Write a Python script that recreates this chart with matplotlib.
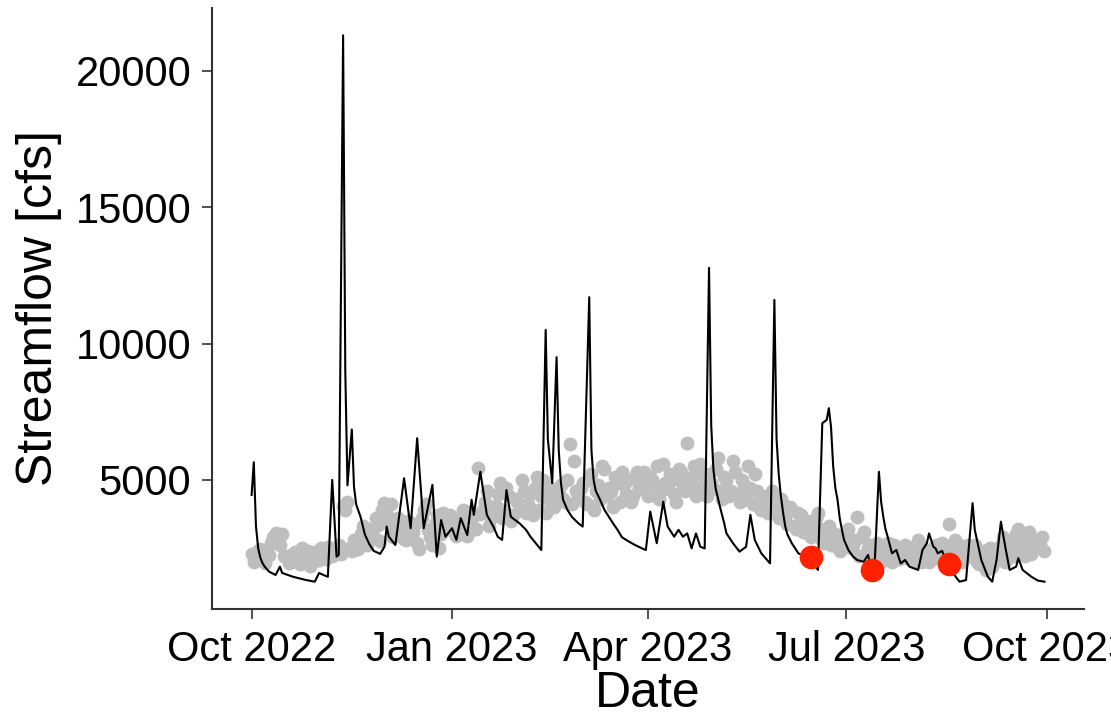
import numpy as np
import pandas as pd
import matplotlib
matplotlib.use('Agg')
import matplotlib.pyplot as plt
import matplotlib.dates as mdates

plt.rcParams['font.family'] = ['Liberation Sans', 'DejaVu Sans']

start = pd.Timestamp('2022-10-01')

# observed daily streamflow, read at turning points (days after 1 Oct 2022, cfs)
flow_day = [0, 1, 2, 3, 4, 5, 6, 8, 11, 13, 14, 19, 25, 29, 31, 33, 35, 37, 39,
            40, 42, 43, 44, 46, 47, 48, 50, 52, 54, 56, 59, 61, 62, 63, 66, 70,
            73, 76, 79, 83, 85, 87, 89, 92, 94, 96, 99, 101, 102, 105, 108, 111,
            113, 115, 117, 119, 123, 126, 128, 133, 135, 136, 138, 140, 141, 142,
            143, 145, 147, 150, 152, 155, 156, 157, 158, 160, 162, 164, 166, 168,
            170, 173, 176, 179, 181, 183, 186, 189, 191, 194, 196, 198, 200, 202,
            204, 206, 208, 210, 211, 212, 213, 215, 217, 218, 221, 224, 227, 229,
            231, 234, 238, 240, 241, 242, 243, 244, 245, 246, 248, 251, 254, 257,
            260, 262, 264, 265, 266, 267, 268, 269, 270, 271, 272, 274, 276, 278,
            281, 283, 284, 286, 288, 289, 290, 291, 292, 294, 296, 298, 300, 302,
            304, 306, 308, 310, 311, 313, 314, 315, 317, 319, 322, 325, 328, 331,
            332, 335, 338, 340, 342, 344, 346, 348, 351, 352, 354, 358, 361, 364]
flow_cfs = [4450, 5650, 3300, 2500, 2150, 1950, 1820, 1640, 1515, 1820, 1590,
            1450, 1330, 1270, 1590, 1515, 1450, 5000, 2190, 2250, 21300, 9000,
            4800, 6850, 4750, 4100, 3650, 3000, 2650, 2400, 2290, 2550, 3290,
            2920, 2615, 5060, 3230, 6530, 3230, 4820, 2190, 3530, 2920, 3230,
            2800, 3600, 2980, 4270, 3720, 5300, 3720, 3290, 2920, 2800, 4630,
            3650, 3410, 3170, 2920, 2430, 10500, 6500, 4880, 9500, 6100, 4900,
            4270, 3900, 3650, 3410, 3290, 11700, 6100, 5000, 4600, 4270, 3900,
            3650, 3400, 3170, 2900, 2750, 2615, 2500, 2430, 3840, 2680, 4200,
            3290, 2920, 3170, 2920, 3040, 2490, 3040, 2550, 2490, 12775, 7000,
            5400, 4700, 4020, 3400, 3040, 2680, 2370, 2550, 3720, 2800, 2310,
            1940, 11600, 6500, 5200, 4400, 3800, 3290, 3000, 2680, 2310, 2200,
            2050, 1700, 7080, 7200, 7630, 6950, 5490, 4700, 4270, 3600, 3170,
            2800, 2430, 2200, 2065, 2000, 2250, 1900, 1850, 5300, 4200, 3650,
            3200, 2920, 2310, 2430, 1940, 2065, 1820, 1760, 1700, 2430, 2680,
            3040, 2550, 2490, 2310, 2400, 2000, 1580, 1270, 1330, 4150, 3170,
            2065, 1450, 1270, 2065, 3470, 2550, 1700, 1820, 2130, 1700, 1450,
            1310, 1270]

# grey reference points on even days after 1 Oct 2022 (cfs)
ref_even = [2300, 2150, 2450, 1950, 2250, 2900, 2800, 3000, 2200, 2000, 2350, 1900, 2150, 2400, 2000,
            2300, 2500, 2100, 2450, 2250, 2600, 4050, 4200, 2400, 2650, 3000, 2750, 3200, 2900, 3350,
            3900, 3700, 4100, 3000, 3300, 2850, 3500, 3100, 2700, 3600, 4100, 2900, 3400, 2500, 3800,
            3300, 3600, 2950, 3500, 3850, 3100, 3700, 5450, 3900, 4600, 3600, 4050, 4900, 3900, 4400,
            3700, 4200, 5000, 3800, 4500, 4700, 3900, 5000, 4300, 4100, 4600, 4800, 4200, 6300, 5700,
            4400, 4900, 4100, 5200, 4600, 4300, 5400, 4700, 4000, 4900, 5300, 4500, 4200, 5100, 4700,
            5300, 4400, 5000, 5500, 4600, 4900, 5200, 4500, 5400, 4800, 6350, 5100, 4400, 5600, 4900,
            5200, 4700, 5800, 4300, 5000, 4600, 5300, 4200, 4800, 5500, 4100, 4600, 3900, 4300, 4000,
            4500, 3600, 4100, 3400, 3900, 3200, 3700, 3500, 3000, 3300, 3800, 2800, 3100, 2600, 3000,
            2400, 2800, 3200, 2600, 3650, 2900, 2300, 2600, 2100, 2500, 2300, 2700, 2000, 2400, 2200,
            2600, 2100, 2300, 2800, 2000, 2400, 2200, 2600, 2100, 2500, 3400, 2300, 2700, 2000, 2500,
            2200, 2600, 1900, 2400, 2100, 1800, 2300, 2600, 2000, 2700, 2200, 3200, 2500, 2900, 2300,
            2800, 2600, 2400]

# grey reference points on odd days (cfs)
ref_odd = [2000, 2400, 2100, 2250, 2700, 3050, 2600, 2200, 1950, 2300, 2100, 2500, 2250, 1850, 2350,
           2050, 2350, 2550, 2200, 2400, 2300, 3900, 2500, 2800, 2450, 3300, 2600, 3000, 3600, 2750,
           4150, 3400, 2900, 3600, 3200, 2800, 3050, 3400, 2450, 3900, 3150, 2600, 3700, 3000, 3300,
           3700, 3100, 3400, 3900, 2950, 3600, 3200, 3750, 4200, 3300, 3850, 4500, 3600, 4700, 3500,
           4300, 3900, 4600, 4100, 3700, 5100, 4400, 3800, 4700, 4000, 4500, 4300, 5000, 4100, 4600,
           4700, 4200, 5000, 3900, 4800, 5500, 4400, 4600, 5100, 4200, 4800, 5000, 4400, 5300, 4900,
           4600, 5100, 4800, 4300, 5600, 4700, 5000, 4200, 5300, 4600, 5000, 5500, 4700, 5200, 4400,
           4900, 5400, 4600, 5100, 4400, 5700, 4500, 5000, 4300, 4700, 5200, 4000, 4400, 3800, 4600,
           3900, 4300, 3600, 4000, 3300, 3800, 3100, 3500, 2900, 3600, 3200, 2700, 3300, 2900, 2500,
           2700, 3000, 2500, 2800, 2200, 3100, 2500, 2300, 2700, 2000, 2500, 2200, 2600, 2100, 2400,
           2300, 2500, 2000, 2600, 2200, 2000, 2500, 2300, 2700, 1900, 2400, 2800, 2100, 2300, 2600,
           2500, 2000, 2300, 1700, 2500, 2000, 2200, 2900, 2100, 2400, 3000, 2700, 2200, 3100, 2500,
           2700, 2900]

# red sample points
sample_dates = ['2023-06-15', '2023-07-13', '2023-08-17']
sample_cfs = [2170, 1700, 1910]

flow_dates = start + pd.to_timedelta(flow_day, unit='D')
ref_days = np.concatenate([np.arange(len(ref_even)) * 2, np.arange(len(ref_odd)) * 2 + 1])
ref_dates = start + pd.to_timedelta(ref_days, unit='D')
ref_cfs = ref_even + ref_odd
sample_dates = pd.to_datetime(sample_dates)

fig = plt.figure(figsize=(11.11, 7.25), dpi=100)
ax = fig.add_axes([0.1908, 0.16, 0.785, 0.829])

ax.scatter(ref_dates, ref_cfs, s=100, color='#BEBEBE', linewidths=0, zorder=1)
ax.plot(flow_dates, flow_cfs, color='black', linewidth=1.5, zorder=2)
ax.scatter(sample_dates, sample_cfs, s=290, color='#FF2200', linewidths=0, zorder=3)

# ggplot-style 5% expansion
x0, x1 = mdates.date2num(start), mdates.date2num(start + pd.Timedelta(days=364))
pad = (x1 - x0) * 0.05
ax.set_xlim(x0 - pad, x1 + pad)
ymin = min(min(flow_cfs), min(ref_cfs))
ymax = max(max(flow_cfs), max(ref_cfs))
ypad = (ymax - ymin) * 0.05
ax.set_ylim(ymin - ypad, ymax + ypad)

ax.xaxis.set_major_locator(mdates.MonthLocator(bymonth=[1, 4, 7, 10]))
ax.xaxis.set_major_formatter(mdates.DateFormatter('%b %Y'))
ax.set_yticks([5000, 10000, 15000, 20000])

for side in ['top', 'right']:
    ax.spines[side].set_visible(False)
for side in ['left', 'bottom']:
    ax.spines[side].set_color('#333333')
    ax.spines[side].set_linewidth(1.5)

ax.tick_params(axis='both', length=7, width=1.2, color='#333333',
               labelsize=30, labelcolor='black', pad=8)
ax.set_xlabel('Date', fontsize=36, labelpad=1)
ax.set_ylabel('Streamflow [cfs]', fontsize=36, labelpad=10)

fig.savefig('out.png', dpi=100)
